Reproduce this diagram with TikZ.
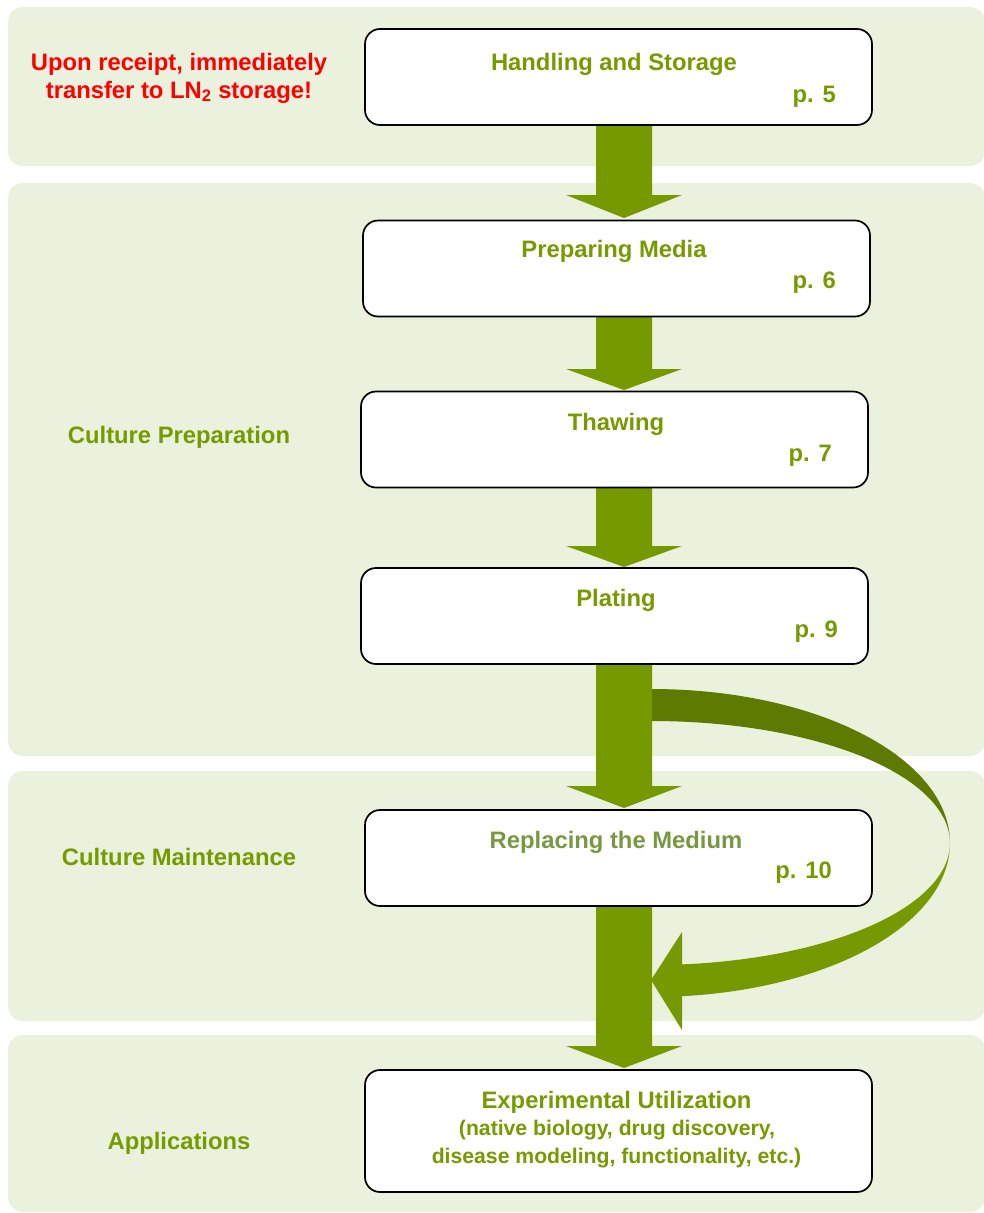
\documentclass[tikz,border=0pt]{standalone}
\usepackage{fontspec}
\setmainfont{Liberation Sans}
\definecolor{bandc}{RGB}{234,241,221}
\definecolor{arrc}{RGB}{118,153,0}
\definecolor{arrdark}{RGB}{94,122,0}
\definecolor{txtc}{RGB}{118,154,0}
\definecolor{replc}{RGB}{120,152,64}
\definecolor{redc}{RGB}{255,0,0}
\begin{document}
\begin{tikzpicture}[x=1pt,y=-1pt,
  band/.style={fill=bandc, rounded corners=15pt},
  stepbox/.style={draw=black, line width=1.7pt, fill=white, rounded corners=15pt,
    minimum width=507pt, minimum height=96pt, inner sep=0pt},
  big/.style={font=\fontsize{23.8}{28}\selectfont\bfseries, text=txtc, inner sep=0pt, anchor=base},
  small/.style={font=\fontsize{21.2}{28}\selectfont\bfseries, text=txtc, inner sep=0pt, anchor=base},
  pg/.style={font=\fontsize{23.8}{28}\selectfont\bfseries, text=txtc, inner sep=0pt, anchor=base east},
  arr/.style={fill=arrc}
]
\useasboundingbox (0,0) rectangle (983,1213);
% bands
\fill[band] (8,7) rectangle (985,166);
\fill[band] (8,183) rectangle (985,756);
\fill[band] (8,771) rectangle (985,1021);
\fill[band] (8,1035) rectangle (985,1212);

% straight block arrows
\newcommand\blockarr[3]{%
  \fill[arr] (596,#1) -- (652,#1) -- (652,#2) -- (682,#2) -- (624,#3) -- (566,#2) -- (596,#2) -- cycle;}
\blockarr{120}{195}{218}
\blockarr{312}{369}{390}
\blockarr{483}{546}{567}
\blockarr{659}{786}{808}
\blockarr{901}{1046}{1068}

% curved arrow
\fill[arrdark] plot[domain=90:0,samples=60] ({652+298*cos(\x)},{843-154*sin(\x)})
  -- plot[domain=0:90,samples=60] ({652+298*cos(\x)},{843-122*sin(\x)}) -- cycle;
\fill[arrc] plot[domain=0:-84.2,samples=60] ({652+298*cos(\x)},{843-154*sin(\x)})
  -- plot[domain=-84.2:0,samples=60] ({652+298*cos(\x)},{843-122*sin(\x)}) -- cycle;
\fill[arrc] (682,932) -- (651,980) -- (682,1030) -- cycle;

% boxes
\node[stepbox] (b1) at (618.5,77) {};
\node[stepbox] (b2) at (616.5,268.5) {};
\node[stepbox] (b3) at (614.5,439.5) {};
\node[stepbox] (b4) at (614.5,616) {};
\node[stepbox] (b5) at (618.5,858) {};
\node[stepbox, minimum height=122pt] (b6) at (618.5,1131) {};

% box texts
\node[big] (t1) at (614,70) {Handling and Storage};
\node[pg] (p1) at (836,102) {p. 5};
\node[big] (t2) at (614,257.5) {Preparing Media};
\node[pg] (p2) at (836,288.5) {p. 6};
\node[big] (t3) at (616,430.5) {Thawing};
\node[pg] (p3) at (832,461.5) {p. 7};
\node[big] (t4) at (616,606.5) {Plating};
\node[pg] (p4) at (838,637.5) {p. 9};
\node[big, text=replc] (t5) at (616,848) {Replacing the Medium};
\node[pg] (p5) at (832,878) {p. 10};
\node[big] (t6a) at (616.5,1108.5) {Experimental Utilization};
\node[small] (t6b) at (617,1135.5) {(native biology, drug discovery,};
\node[small] (t6c) at (616.5,1163.5) {disease modeling, functionality, etc.)};

% left labels
\node[big, text=redc] (r1) at (179,70) {Upon receipt, immediately};
\node[big, text=redc] (r2) at (179,98) {transfer to LN\textsubscript{2} storage!};
\node[big] (l1) at (179,443) {Culture Preparation};
\node[big] (l2) at (179,865) {Culture Maintenance};
\node[big] (l3) at (179,1149) {Applications};
\end{tikzpicture}
\end{document}
